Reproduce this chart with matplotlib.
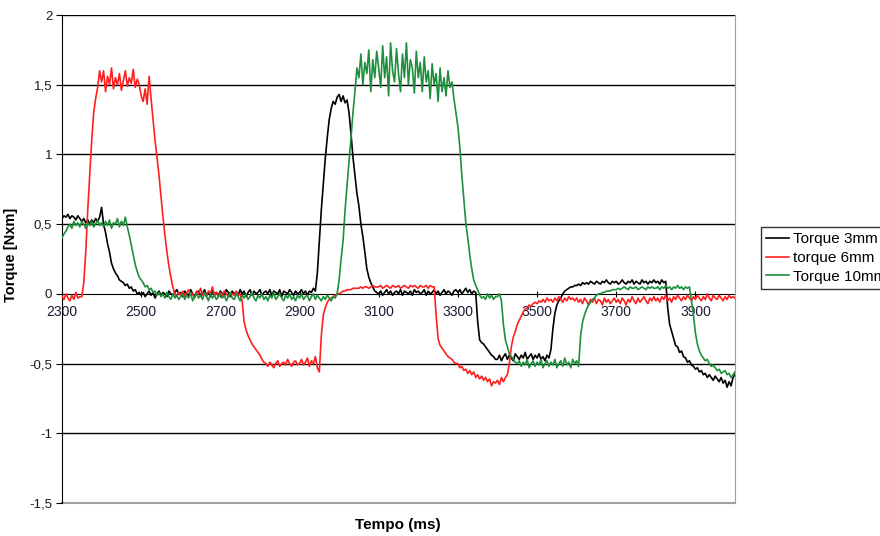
import numpy as np
import matplotlib
matplotlib.use("Agg")
import matplotlib.pyplot as plt
from matplotlib.ticker import FuncFormatter

plt.rcParams['font.family'] = ['Liberation Sans', 'DejaVu Sans']

# time grid (ms), one sample every 5 ms
t_start, t_end, t_step = 2300, 4000, 5

torque_3mm = (
    [0.54,0.56,0.55,0.57,0.54,0.56,0.55,0.53,0.56,0.54,0.52,0.54,0.51,0.53,0.50,0.53,0.51,0.54,0.52,0.55] +
    [0.62,0.50,0.44,0.36,0.30,0.22,0.18,0.15,0.13,0.10,0.09,0.08,0.06,0.07,0.04,0.05,0.02,0.03,0.00,0.01] +
    [-0.01,0.01,-0.02,0.00,0.02,-0.01,0.01,-0.03,0.00,0.02,-0.01,0.01,0.00,-0.02,0.02,0.00,-0.01,0.01,0.03,0.00] +
    [0.01,-0.02,0.02,0.00,-0.01,0.03,0.00,-0.02,0.01,0.02,-0.01,0.00,0.03,-0.01,0.01,-0.02,0.02,0.00,0.01,-0.01] +
    [0.02,0.00,-0.01,0.03,0.01,-0.02,0.02,0.00,0.01,-0.01,0.03,0.00,0.02,-0.02,0.01,0.03,-0.01,0.02,0.00,0.01] +
    [0.03,-0.01,0.01,0.02,0.00,0.03,-0.01,0.02,0.01,0.00,0.03,-0.02,0.02,0.01,0.00,0.03,0.01,-0.01,0.02,0.00] +
    [0.01,0.03,0.00,0.02,-0.01,0.02,0.01,0.04,0.02,0.15,0.38,0.60,0.78,0.97,1.12,1.25,1.33,1.38,1.36,1.41] +
    [1.43,1.38,1.42,1.37,1.39,1.30,1.15,0.98,0.85,0.72,0.63,0.50,0.41,0.30,0.18,0.12,0.08,0.05,0.02,0.01] +
    [0.00,0.02,-0.01,0.01,0.03,0.00,0.02,-0.01,0.01,0.02,0.00,0.03,-0.01,0.02,0.01,0.00,0.02,-0.01,0.03,0.01] +
    [0.02,0.00,0.01,0.03,-0.01,0.02,0.00,0.01,0.03,0.00,0.02,-0.01,0.01,0.03,0.00,0.02,0.01,-0.01,0.02,0.03] +
    [0.01,0.03,0.00,0.02,0.04,0.01,0.03,0.00,0.02,0.01,-0.20,-0.33,-0.35,-0.36,-0.38,-0.40,-0.42,-0.44,-0.45,-0.47] +
    [-0.47,-0.44,-0.48,-0.45,-0.43,-0.47,-0.44,-0.46,-0.48,-0.43,-0.45,-0.47,-0.44,-0.46,-0.42,-0.47,-0.45,-0.43,-0.47,-0.44] +
    [-0.46,-0.43,-0.47,-0.45,-0.48,-0.44,-0.46,-0.40,-0.25,-0.14,-0.08,-0.05,-0.03,0.00,0.02,0.03,0.04,0.05,0.05,0.06] +
    [0.06,0.07,0.06,0.08,0.07,0.08,0.07,0.09,0.08,0.07,0.09,0.08,0.07,0.09,0.08,0.10,0.08,0.07,0.09,0.08] +
    [0.09,0.07,0.08,0.10,0.08,0.07,0.09,0.08,0.10,0.07,0.09,0.08,0.07,0.10,0.08,0.09,0.07,0.09,0.08,0.10] +
    [0.08,0.09,0.07,0.10,0.08,0.09,-0.10,-0.22,-0.27,-0.32,-0.37,-0.38,-0.42,-0.41,-0.45,-0.46,-0.49,-0.48,-0.51,-0.52] +
    [-0.54,-0.53,-0.56,-0.55,-0.58,-0.57,-0.60,-0.58,-0.60,-0.62,-0.59,-0.61,-0.63,-0.60,-0.64,-0.62,-0.67,-0.63,-0.66,-0.60] +
    [-0.58]
)

torque_6mm = (
    [-0.02,-0.04,0.00,-0.03,-0.05,-0.01,-0.04,0.01,-0.03,-0.02,-0.02,0.08,0.30,0.60,0.85,1.10,1.30,1.40,1.48,1.60] +
    [1.52,1.60,1.45,1.56,1.50,1.62,1.47,1.55,1.50,1.58,1.46,1.53,1.60,1.49,1.55,1.51,1.61,1.48,1.54,1.50] +
    [1.42,1.38,1.47,1.36,1.56,1.40,1.25,1.10,0.98,0.85,0.70,0.55,0.42,0.30,0.20,0.12,0.05,0.00,-0.02,0.01] +
    [-0.01,0.02,-0.02,0.01,0.03,-0.01,0.00,-0.03,0.02,0.00,0.04,-0.01,0.01,-0.02,0.02,0.00,0.05,-0.01,0.01,-0.02] +
    [0.01,-0.01,0.02,0.00,-0.02,0.01,0.00,-0.01,0.02,-0.01,0.00,-0.05,-0.20,-0.26,-0.30,-0.33,-0.36,-0.38,-0.40,-0.42] +
    [-0.44,-0.47,-0.49,-0.50,-0.52,-0.49,-0.51,-0.53,-0.50,-0.48,-0.52,-0.50,-0.49,-0.51,-0.47,-0.50,-0.52,-0.49,-0.48,-0.51] +
    [-0.50,-0.47,-0.51,-0.49,-0.46,-0.52,-0.48,-0.50,-0.45,-0.53,-0.56,-0.30,-0.15,-0.10,-0.06,-0.04,-0.03,-0.02,-0.01,0.00] +
    [0.00,0.01,0.02,0.02,0.03,0.03,0.03,0.04,0.04,0.04,0.04,0.05,0.04,0.05,0.05,0.04,0.05,0.06,0.05,0.05] +
    [0.05,0.06,0.04,0.05,0.06,0.05,0.04,0.06,0.05,0.05,0.06,0.04,0.05,0.06,0.05,0.04,0.06,0.05,0.06,0.05] +
    [0.04,0.06,0.05,0.05,0.06,0.04,0.06,0.05,0.05,-0.15,-0.32,-0.37,-0.39,-0.41,-0.43,-0.45,-0.46,-0.47,-0.49,-0.50] +
    [-0.50,-0.53,-0.52,-0.55,-0.54,-0.57,-0.55,-0.58,-0.56,-0.60,-0.58,-0.61,-0.59,-0.62,-0.60,-0.63,-0.61,-0.66,-0.63,-0.64] +
    [-0.62,-0.65,-0.60,-0.63,-0.60,-0.58,-0.50,-0.38,-0.31,-0.27,-0.22,-0.19,-0.16,-0.13,-0.11,-0.10,-0.08,-0.09,-0.07,-0.06] +
    [-0.07,-0.05,-0.06,-0.04,-0.06,-0.03,-0.05,-0.04,-0.06,-0.03,-0.05,-0.02,-0.04,-0.06,-0.03,-0.05,-0.02,-0.04,-0.03,-0.05] +
    [-0.03,-0.06,-0.04,-0.07,-0.03,-0.05,-0.08,-0.04,-0.06,-0.03,-0.07,-0.04,-0.05,-0.08,-0.03,-0.06,-0.04,-0.07,-0.05,-0.03] +
    [-0.06,-0.04,-0.07,-0.03,-0.05,-0.08,-0.04,-0.06,-0.02,-0.05,-0.07,-0.03,-0.06,-0.04,-0.02,-0.05,-0.07,-0.03,-0.05,-0.02] +
    [-0.05,-0.03,-0.06,-0.02,-0.04,-0.01,-0.05,-0.03,-0.06,-0.02,-0.04,-0.01,-0.03,-0.05,-0.02,-0.04,-0.01,-0.03,-0.05,-0.02] +
    [-0.04,-0.01,-0.03,-0.05,-0.02,-0.04,0.00,-0.03,-0.05,-0.01,-0.03,-0.04,-0.01,-0.03,-0.05,-0.02,-0.04,-0.01,-0.03,-0.02] +
    [-0.03]
)

torque_10mm = (
    [0.40,0.43,0.45,0.48,0.50,0.47,0.52,0.49,0.51,0.48,0.52,0.50,0.47,0.51,0.49,0.52,0.48,0.50,0.53,0.49] +
    [0.51,0.48,0.52,0.49,0.53,0.47,0.51,0.50,0.54,0.48,0.52,0.49,0.55,0.48,0.42,0.35,0.28,0.21,0.16,0.12] +
    [0.10,0.08,0.05,0.06,0.03,0.04,0.01,0.02,-0.01,0.01,-0.02,0.00,-0.03,0.01,-0.02,-0.04,0.00,-0.03,-0.01,-0.04] +
    [-0.02,0.00,-0.04,-0.01,-0.03,0.01,-0.05,-0.02,0.00,-0.03,-0.01,-0.04,0.01,-0.02,-0.05,0.00,-0.03,-0.01,-0.04,-0.02] +
    [0.00,-0.03,-0.01,-0.05,-0.02,0.01,-0.03,-0.04,0.00,-0.02,-0.05,-0.01,-0.03,0.00,-0.04,-0.02,0.01,-0.03,-0.05,-0.01] +
    [-0.03,0.00,-0.04,-0.02,-0.05,-0.01,-0.03,0.01,-0.04,-0.02,0.00,-0.03,-0.05,-0.01,-0.03,0.00,-0.04,-0.02,-0.05,-0.01] +
    [-0.03,0.00,-0.04,-0.02,-0.01,-0.05,-0.02,0.00,-0.04,-0.01,-0.03,-0.05,-0.02,-0.04,-0.01,-0.03,-0.05,-0.02,-0.03,0.00] +
    [0.10,0.25,0.38,0.60,0.78,0.95,1.12,1.30,1.45,1.62,1.55,1.72,1.50,1.66,1.58,1.75,1.45,1.68,1.55,1.74] +
    [1.62,1.48,1.78,1.55,1.70,1.42,1.80,1.60,1.52,1.76,1.58,1.45,1.72,1.55,1.80,1.50,1.68,1.62,1.44,1.74] +
    [1.55,1.66,1.45,1.70,1.52,1.60,1.40,1.65,1.50,1.58,1.38,1.62,1.45,1.55,1.42,1.60,1.48,1.52,1.40,1.30] +
    [1.20,1.05,0.85,0.68,0.51,0.40,0.28,0.18,0.10,0.06,0.03,-0.01,-0.03,-0.02,-0.04,0.00,-0.03,-0.01,-0.04,-0.02] +
    [-0.02,0.00,-0.05,-0.22,-0.33,-0.38,-0.43,-0.45,-0.47,-0.49,-0.50,-0.48,-0.52,-0.49,-0.51,-0.47,-0.53,-0.50,-0.48,-0.52] +
    [-0.49,-0.51,-0.47,-0.53,-0.50,-0.48,-0.52,-0.49,-0.51,-0.47,-0.53,-0.50,-0.48,-0.52,-0.46,-0.51,-0.49,-0.53,-0.47,-0.50] +
    [-0.48,-0.52,-0.30,-0.20,-0.15,-0.11,-0.08,-0.06,-0.04,-0.03,-0.01,0.00,0.00,0.01,0.01,0.02,0.02,0.02,0.03,0.03] +
    [0.03,0.04,0.03,0.04,0.05,0.04,0.03,0.05,0.04,0.04,0.05,0.03,0.04,0.05,0.04,0.03,0.05,0.04,0.05,0.04] +
    [0.04,0.05,0.03,0.05,0.04,0.06,0.04,0.05,0.03,0.05,0.04,0.06,0.04,0.05,0.03,0.05,0.04,0.05,-0.05,-0.15] +
    [-0.28,-0.36,-0.41,-0.44,-0.46,-0.48,-0.47,-0.50,-0.52,-0.51,-0.53,-0.55,-0.54,-0.57,-0.56,-0.55,-0.58,-0.57,-0.60,-0.58] +
    [-0.56]
)

series_labels = ['Torque 3mm', 'torque 6mm', 'Torque 10mm']
series_colors = ['#000000', '#ff1f1f', '#1e8f3c']
x_ticks = list(range(2300, 4000, 200))
y_ticks = [-1.5, -1, -0.5, 0, 0.5, 1, 1.5, 2]

t = np.arange(t_start, t_end + 1, t_step)

W, H = 880, 536
fig = plt.figure(figsize=(W / 100, H / 100), dpi=100)
L, R, T, B = 62, 735, 15, 503
ax = fig.add_axes([L / W, 1 - B / H, (R - L) / W, (B - T) / H])
ax.set_xlim(t_start, t_end)
ax.set_ylim(-1.5, 2)

for y in y_ticks[1:]:
    if y != 0:
        ax.axhline(y, color='black', lw=1.0, zorder=1)
ax.axhline(-1.5, color='#a0a0a0', lw=1.5, zorder=1, clip_on=False)

handles = []
for vals, lab, col in zip([torque_3mm, torque_6mm, torque_10mm], series_labels, series_colors):
    h, = ax.plot(t, np.array(vals), color=col, lw=1.2, label=lab, zorder=3)
    handles.append(h)

ax.spines['bottom'].set_position(('data', 0))
ax.spines['bottom'].set_color('black')
ax.spines['bottom'].set_zorder(2)
ax.spines['top'].set_visible(False)
ax.spines['right'].set_color('#a0a0a0')
ax.spines['left'].set_color('black')

ax.set_xticks(x_ticks)
ax.set_yticks(y_ticks)
ax.yaxis.set_major_formatter(FuncFormatter(lambda v, p: ('%g' % v).replace('.', ',')))
ax.tick_params(axis='x', direction='inout', length=4, pad=6, labelsize=10, colors='black', labelcolor='#1a1a33')
ax.tick_params(axis='y', direction='out', length=4, pad=3, labelsize=9.5, labelcolor='#1a1a1a')

ax.set_ylabel('Torque [Nxm]', fontweight='bold', fontsize=10.5)
ax.yaxis.set_label_coords(-(L - 18) / (R - L), (B - 255) / (B - T))
fig.text(398 / W, 1 - 525 / H, 'Tempo (ms)', ha='center', va='center', fontweight='bold', fontsize=11)

leg = fig.legend(handles=handles, labels=series_labels, loc='upper left',
                 bbox_to_anchor=(761 / W, 1 - 227 / H), frameon=True, fancybox=False,
                 edgecolor='black', fontsize=11, handlelength=1.45, borderpad=0.35,
                 labelspacing=0.3, handletextpad=0.3, borderaxespad=0)
leg.get_frame().set_linewidth(1.0)

fig.savefig('out.png', dpi=100)
